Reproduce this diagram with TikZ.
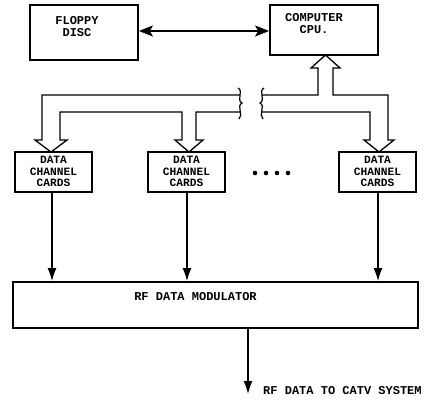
\documentclass[tikz,border=0pt]{standalone}
\usepackage{fontspec}
\setmonofont{Liberation Mono}
\usetikzlibrary{arrows.meta,calc}
\begin{document}
\begin{tikzpicture}[x=1pt,y=-1pt,
  box/.style={draw,line width=1.8pt,minimum width=#1,inner sep=0pt},
  lbl/.style={font=\ttfamily\bfseries\fontsize{12}{12}\selectfont,inner sep=0pt,align=center},
  cardlbl/.style={font=\ttfamily\bfseries\fontsize{11.2}{11.5}\selectfont,inner sep=0pt,align=center},
  bus/.style={line width=1.3pt,line join=miter},
  sig/.style={line width=1.4pt,-{Latex[length=13pt,width=9pt]}},
  both/.style={line width=1.4pt,{Stealth[length=14pt,width=11pt,inset=3pt]}-{Stealth[length=14pt,width=11pt,inset=3pt]}}]
\useasboundingbox (0,0) rectangle (428,400);

% upper boxes
\node[box=108pt,minimum height=55pt] (floppy) at (84,32.5) {};
\node[lbl] (floppyt) at (77,26.5) {FLOPPY\\DISC};
\node[box=108pt,minimum height=50pt] (cpu) at (324,30) {};
\node[lbl] (cput) at (314,24) {COMPUTER\\CPU.};
\coordinate (lnk) at (0,31);
\draw[both] (floppy.east |- lnk) -- (cpu.west |- lnk);

% channel cards
\node[box=77pt,minimum height=40pt] (c1) at (53.5,172) {};
\node[box=77pt,minimum height=40pt] (c2) at (186.5,172) {};
\node[box=77pt,minimum height=40pt] (c3) at (377.5,172) {};
\node[cardlbl] (c1t) at (53.5,171.5) {DATA\\CHANNEL\\CARDS};
\node[cardlbl] (c2t) at (186.5,171.5) {DATA\\CHANNEL\\CARDS};
\node[cardlbl] (c3t) at (377.5,171.5) {DATA\\CHANNEL\\CARDS};
\foreach \x [count=\i] in {255,266,277,288}
  \fill (\x,173) circle (2.3pt) coordinate (dot\i);

% hollow data bus, left half
\draw[bus] (240,95) -- (42,95) -- (42,140) -- (35,140) -- (51,152) -- (67,140)
  -- (60,140) -- (60,112) -- (182,112) -- (182,140) -- (175,140) -- (189,152)
  -- (203,140) -- (196,140) -- (196,112) -- (240,112);
% hollow data bus, right half
\draw[bus] (262,112) -- (370,112) -- (370,140) -- (364,140) -- (379,152)
  -- (394,140) -- (388,140) -- (388,95) -- (333,95) -- (333,68) -- (340,68)
  -- (325.5,55) -- (311,68) -- (318,68) -- (318,95) -- (262,95);
% break marks
\draw[line width=1.2pt] (238,88) .. controls (244,91) and (236,100) .. (242,103)
  .. controls (236,106) and (244,115) .. (239,119);
\draw[line width=1.2pt] (264,88) .. controls (258,91) and (266,100) .. (260,103)
  .. controls (266,106) and (258,115) .. (263,119);

% modulator
\node[box=405pt,minimum height=46pt] (mod) at (215.5,305) {};
\node[lbl] (modt) at (195.5,297) {RF DATA MODULATOR};
\draw[sig] (c1.south -| 52,0) -- (mod.north -| 52,0);
\draw[sig] (c2.south -| 187,0) -- (mod.north -| 187,0);
\draw[sig] (c3.south -| 378,0) -- (mod.north -| 378,0);

% output
\coordinate (out) at (248,394);
\draw[sig] (mod.south -| out) -- (out);
\node[lbl,anchor=west] (outt) at (263,391) {RF DATA TO CATV SYSTEM};
\end{tikzpicture}
\end{document}
